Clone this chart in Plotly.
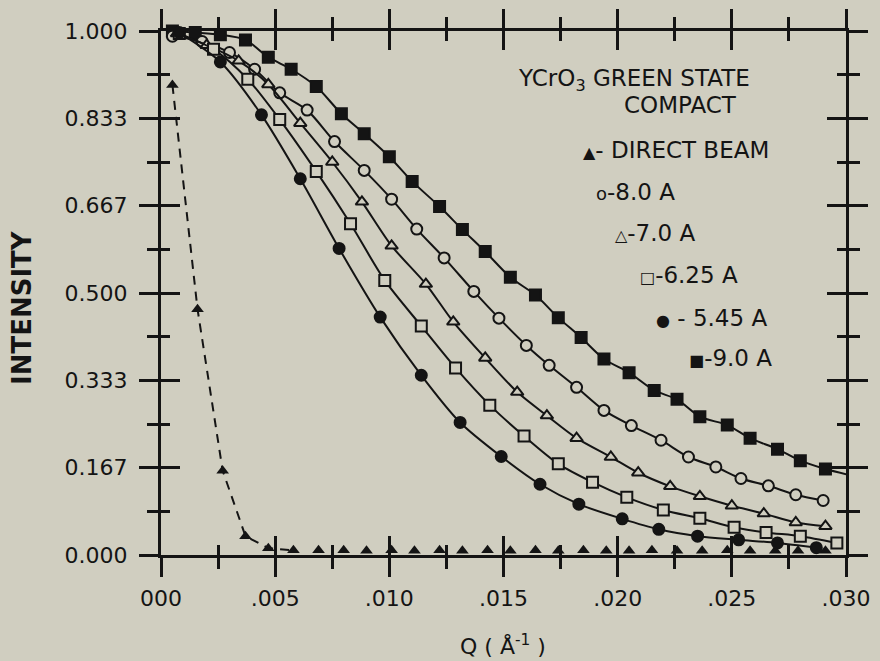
import plotly.graph_objects as go

# ---------------- data ----------------
q_direct = [0.0005, 0.0016, 0.0027, 0.0037, 0.0047, 0.0058, 0.0069, 0.0080, 0.0090, 0.0101,
            0.0111, 0.0122, 0.0132, 0.0143, 0.0153, 0.0164, 0.0174, 0.0185, 0.0195, 0.0205,
            0.0215, 0.0226, 0.0237, 0.0248, 0.0258, 0.0269, 0.0279, 0.0291]
i_direct = [0.897, 0.469, 0.161, 0.036, 0.013, 0.009, 0.009, 0.009, 0.008, 0.009,
            0.008, 0.009, 0.008, 0.009, 0.008, 0.009, 0.008, 0.009, 0.008, 0.008,
            0.009, 0.008, 0.008, 0.009, 0.008, 0.008, 0.008, 0.008]

q_9_0 = [0.0005, 0.0015, 0.0026, 0.0037, 0.0047, 0.0057, 0.0068, 0.0079, 0.0089, 0.0100,
         0.0110, 0.0122, 0.0132, 0.0142, 0.0153, 0.0164, 0.0174, 0.0184, 0.0194, 0.0205,
         0.0216, 0.0226, 0.0236, 0.0248, 0.0258, 0.0270, 0.0280, 0.0291, 0.0301]
i_9_0 = [1.000, 0.997, 0.993, 0.983, 0.950, 0.927, 0.894, 0.842, 0.804, 0.760,
         0.713, 0.665, 0.621, 0.579, 0.530, 0.496, 0.453, 0.415, 0.374, 0.348,
         0.314, 0.297, 0.264, 0.248, 0.223, 0.202, 0.180, 0.164, 0.153]

q_8_0 = [0.0005, 0.0018, 0.0030, 0.0041, 0.0052, 0.0064, 0.0076, 0.0089, 0.0101, 0.0112,
         0.0124, 0.0137, 0.0148, 0.0160, 0.0170, 0.0182, 0.0194, 0.0206, 0.0219, 0.0231,
         0.0243, 0.0254, 0.0266, 0.0278, 0.0290]
i_8_0 = [0.990, 0.980, 0.959, 0.927, 0.882, 0.849, 0.789, 0.734, 0.679, 0.622,
         0.567, 0.503, 0.452, 0.400, 0.362, 0.320, 0.276, 0.247, 0.219, 0.187,
         0.168, 0.146, 0.132, 0.115, 0.104]

q_7_0 = [0.0007, 0.0020, 0.0034, 0.0047, 0.0061, 0.0075, 0.0088, 0.0101, 0.0116, 0.0128,
         0.0142, 0.0156, 0.0169, 0.0182, 0.0197, 0.0209, 0.0223, 0.0236, 0.0250, 0.0264,
         0.0278, 0.0291]
i_7_0 = [0.995, 0.973, 0.943, 0.898, 0.824, 0.750, 0.674, 0.590, 0.517, 0.445,
         0.376, 0.311, 0.266, 0.223, 0.187, 0.157, 0.131, 0.112, 0.094, 0.079,
         0.062, 0.055]

q_6_25 = [0.0008, 0.0023, 0.0038, 0.0052, 0.0068, 0.0083, 0.0098, 0.0114, 0.0129, 0.0144,
          0.0159, 0.0174, 0.0189, 0.0204, 0.0220, 0.0236, 0.0251, 0.0265, 0.0280, 0.0296]
i_6_25 = [0.995, 0.965, 0.908, 0.831, 0.732, 0.632, 0.524, 0.437, 0.357, 0.286,
          0.227, 0.174, 0.139, 0.110, 0.086, 0.070, 0.053, 0.043, 0.036, 0.023]

q_5_45 = [0.0008, 0.0026, 0.0044, 0.0061, 0.0078, 0.0096, 0.0114, 0.0131, 0.0149, 0.0166,
          0.0183, 0.0202, 0.0218, 0.0235, 0.0253, 0.0270, 0.0287]
i_5_45 = [0.997, 0.941, 0.840, 0.718, 0.585, 0.454, 0.343, 0.253, 0.188, 0.135,
          0.097, 0.069, 0.049, 0.036, 0.029, 0.023, 0.014]

x_tick_vals = [0.0, 0.005, 0.010, 0.015, 0.020, 0.025, 0.030]
x_tick_text = ["000", ".005", ".010", ".015", ".020", ".025", ".030"]
x_minor_vals = [0.0025, 0.0075, 0.0125, 0.0175, 0.0225, 0.0275]
y_tick_vals = [0.0, 1/6, 2/6, 3/6, 4/6, 5/6, 1.0]
y_tick_text = ["0.000", "0.167", "0.333", "0.500", "0.667", "0.833", "1.000"]
y_minor_vals = [1/12, 3/12, 5/12, 7/12, 9/12, 11/12]

# ---------------- style ----------------
BG = "#d0cec0"
INK = "#141414"
FONT = "DejaVu Sans"
MAJ_LEN, MIN_LEN, TW = 19, 11, 2.5
TICK_SIZE = 22

fig = go.Figure()

line_style = dict(color=INK, width=2, shape="spline", smoothing=0.8)

# direct beam: dashed falling part + markers
n_dash = 6
fig.add_trace(go.Scatter(x=q_direct[:n_dash], y=i_direct[:n_dash], mode="lines",
                         line=dict(color=INK, width=2, dash="9px,7px"),
                         hoverinfo="skip", cliponaxis=False))
fig.add_trace(go.Scatter(x=q_direct, y=i_direct, mode="markers",
                         marker=dict(symbol="triangle-up", size=11, color=INK),
                         cliponaxis=False, name="DIRECT BEAM"))

# (x, y, symbol, fill, size, name)
series = [
    (q_9_0, i_9_0, "square", INK, 11, "9.0 A"),
    (q_8_0, i_8_0, "circle", BG, 11, "8.0 A"),
    (q_7_0, i_7_0, "triangle-up", BG, 11, "7.0 A"),
    (q_6_25, i_6_25, "square", BG, 11, "6.25 A"),
    (q_5_45, i_5_45, "circle", INK, 11, "5.45 A"),
]
for qx, iy, sym, fill, sz, nm in series:
    fig.add_trace(go.Scatter(
        x=qx, y=iy, mode="lines+markers", name=nm,
        line=line_style,
        marker=dict(symbol=sym, size=sz, color=fill, line=dict(color=INK, width=2)),
        cliponaxis=False))

# helper (empty) trace for the inner half of the cross-shaped ticks
fig.add_trace(go.Scatter(x=[None], y=[None], xaxis="x2", yaxis="y2",
                         hoverinfo="skip", showlegend=False))

common = dict(showgrid=False, zeroline=False)
fig.update_layout(
    width=880, height=661,
    margin=dict(l=161, r=34, t=31, b=106, autoexpand=False),
    paper_bgcolor=BG, plot_bgcolor=BG,
    showlegend=False,
    font=dict(family=FONT, color=INK, size=21),
    xaxis=dict(range=[0, 0.030], tickmode="array", tickvals=x_tick_vals, ticktext=x_tick_text,
               ticks="outside", ticklen=MAJ_LEN, tickwidth=TW, tickcolor=INK,
               showline=True, linewidth=3, linecolor=INK, mirror="ticks",
               ticklabelstandoff=3, tickfont=dict(size=TICK_SIZE, family=FONT, color=INK),
               minor=dict(tickvals=x_minor_vals, ticks="outside", ticklen=MIN_LEN,
                          tickwidth=TW, tickcolor=INK, showgrid=False),
               **common),
    yaxis=dict(range=[0, 1.0], tickmode="array", tickvals=y_tick_vals, ticktext=y_tick_text,
               ticks="outside", ticklen=MAJ_LEN, tickwidth=TW, tickcolor=INK,
               showline=True, linewidth=3, linecolor=INK, mirror="ticks",
               ticklabelstandoff=7, tickfont=dict(size=TICK_SIZE, family=FONT, color=INK),
               minor=dict(tickvals=y_minor_vals, ticks="outside", ticklen=MIN_LEN,
                          tickwidth=TW, tickcolor=INK, showgrid=False),
               **common),
    xaxis2=dict(range=[0, 0.030], overlaying="x", anchor="y2", side="bottom",
                tickmode="array", tickvals=x_tick_vals, showticklabels=False,
                ticks="inside", ticklen=MAJ_LEN, tickwidth=TW, tickcolor=INK,
                showline=False, mirror="ticks",
                minor=dict(tickvals=x_minor_vals, ticks="inside", ticklen=MIN_LEN - 1,
                           tickwidth=TW, tickcolor=INK, showgrid=False),
                **common),
    yaxis2=dict(range=[0, 1.0], overlaying="y", anchor="x2", side="left",
                tickmode="array", tickvals=y_tick_vals, showticklabels=False,
                ticks="inside", ticklen=MAJ_LEN, tickwidth=TW, tickcolor=INK,
                showline=False, mirror="ticks",
                minor=dict(tickvals=y_minor_vals, ticks="inside", ticklen=MIN_LEN - 2,
                           tickwidth=TW, tickcolor=INK, showgrid=False),
                **common),
)

W, H, L, B = 685.0, 524.0, 161.0, 555.0


def px(xp):
    return (xp - L) / W


def py(yp):
    return (B - yp) / H


LEG = 23
annots = [
    ("INTENSITY", 22, 308, -90, 26, "bold"),
    ("Q ( Å<sup>-1</sup> )", 503, 645, 0, 22, "normal"),
    ("YCrO<sub>3</sub> GREEN STATE", 634, 80, 0, LEG, "normal"),
    ("COMPACT", 680, 105, 0, LEG, "normal"),
    ("<span style='font-size:16px'>▲</span>- DIRECT BEAM", 676, 150, 0, LEG, "normal"),
    ("<span style='font-size:18px'>o</span>-8.0 A", 635, 192, 0, LEG, "normal"),
    ("<span style='font-size:16px'>△</span>-7.0 A", 655, 233, 0, LEG, "normal"),
    ("<span style='font-size:16px'>□</span>-6.25 A", 689, 275, 0, LEG, "normal"),
    ("<span style='font-size:16px'>●</span> - 5.45 A", 711, 318, 0, LEG, "normal"),
    ("<span style='font-size:16px'>■</span>-9.0 A", 730, 358, 0, LEG, "normal"),
]
for txt, xx, yy, ang, sz, wt in annots:
    fig.add_annotation(text=txt, x=px(xx), y=py(yy), xref="paper", yref="paper",
                       xanchor="center", yanchor="middle", showarrow=False,
                       textangle=ang,
                       font=dict(family=FONT, size=sz, color=INK, weight=wt))

fig.write_html("out.html",
               config={"displayModeBar": False},
               post_script="document.body.style.margin='0';"
                           "document.body.style.background='" + BG + "';")
